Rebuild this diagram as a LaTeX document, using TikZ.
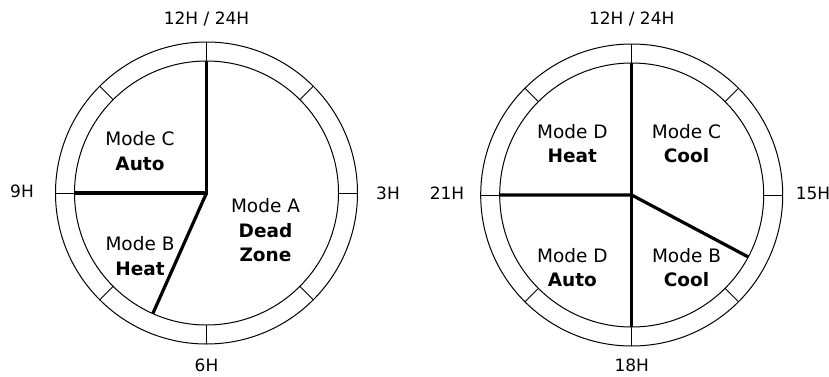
\documentclass[tikz,border=0pt]{standalone}
\usepackage{fontspec}
\setmainfont{DejaVu Sans}
\usepackage{tikz}

\begin{document}
\begin{tikzpicture}[x=1pt,y=1pt,
    ring/.style={line width=1pt},
    split/.style={line width=3.2pt},
    hourlab/.style={font=\fontsize{17}{17}\selectfont},
    modelab/.style={font=\fontsize{18.5}{24.5}\selectfont,align=center,inner sep=0pt}]
  \useasboundingbox (0,0) rectangle (829,376);
  \def\R{151}
  \def\r{132}
  % 12h dial
  \begin{scope}[shift={(206.5,183)}]
    \coordinate (hubL) at (0,0);
    \draw[ring] (hubL) circle (\R);
    \draw[ring] (hubL) circle (\r);
    \foreach \a in {0,45,...,315}
      \draw[ring] (\a:\r) -- (\a:\R);
    \draw[split] (90:\r) -- (hubL) -- (180:\r);
    \draw[split] (hubL) -- (246:\r);
    \node[hourlab] (topL)   at (0,174)     {12H / 24H};
    \node[hourlab] (nineL)  at (-184.5,2)  {9H};
    \node[hourlab] (threeL) at (181.5,0)   {3H};
    \node[hourlab] (sixL)   at (0,-172)    {6H};
    \node[modelab] (modeCL) at (-66.5,42)  {Mode C\\\textbf{Auto}};
    \node[modelab] (modeBL) at (-66.5,-63) {Mode B\\\textbf{Heat}};
    \node[modelab] (modeAL) at (59,-37.5)  {Mode A\\\textbf{Dead}\\\textbf{Zone}};
  \end{scope}
  % 24h dial
  \begin{scope}[shift={(631.7,181)}]
    \coordinate (hubR) at (0,0);
    \draw[ring] (hubR) circle (\R);
    \draw[ring] (hubR) circle (\r);
    \foreach \a in {0,45,...,315}
      \draw[ring] (\a:\r) -- (\a:\R);
    \draw[split] (90:\r) -- (270:\r);
    \draw[split] (180:\r) -- (hubR) -- (-28:\r);
    \node[hourlab] (topR)   at (0,176)     {12H / 24H};
    \node[hourlab] (twoneR) at (-184.7,2)  {21H};
    \node[hourlab] (fiftR)  at (181.3,2)   {15H};
    \node[hourlab] (eightR) at (0,-170)    {18H};
    \node[modelab] (modeDH) at (-59.4,51.3) {Mode D\\\textbf{Heat}};
    \node[modelab] (modeCR) at (54.8,51.3)  {Mode C\\\textbf{Cool}};
    \node[modelab] (modeDA) at (-59.4,-72.8) {Mode D\\\textbf{Auto}};
    \node[modelab] (modeBR) at (54.8,-72.8) {Mode B\\\textbf{Cool}};
  \end{scope}
\end{tikzpicture}
\end{document}
